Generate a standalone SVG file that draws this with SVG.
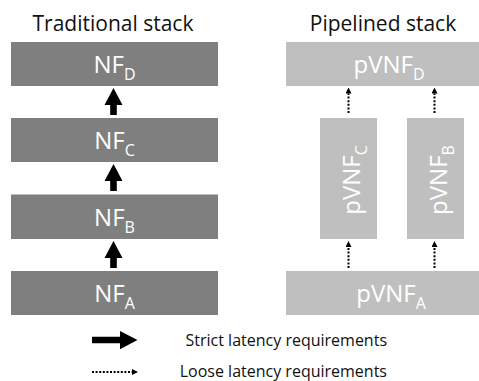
<svg xmlns="http://www.w3.org/2000/svg" width="479" height="381" viewBox="0 0 479 381">
  <style>
    .dark { fill: #7f7f7f; }
    .light { fill: #bfbfbf; }
    .lbl { font-family: "Open Sans", "Liberation Sans", sans-serif; font-size: 24px; fill: #ffffff; text-anchor: middle; }
    .sub { font-size: 16px; }
    .title { font-family: "Open Sans", "Liberation Sans", sans-serif; font-size: 21px; fill: #111111; text-anchor: middle; }
    .legend { font-family: "Open Sans", "Liberation Sans", sans-serif; font-size: 16px; fill: #111111; text-anchor: end; }
    .dot { stroke: #000000; stroke-width: 2; stroke-dasharray: 2 1.6; fill: none; }
    .thick { fill: #000000; }
  </style>
  <defs>
    <path id="thickUp" d="M0,0 L9,17 L3.3,17 L3.3,27 L-3.3,27 L-3.3,17 L-9,17 Z"/>
    <marker id="smallHead" viewBox="0 0 6 6" refX="0" refY="3" markerWidth="6" markerHeight="6" markerUnits="userSpaceOnUse" orient="auto">
      <path d="M0,0 L6,3 L0,6 Z" fill="#000000"/>
    </marker>
  </defs>

  <text class="title" x="113" y="31">Traditional stack</text>
  <text class="title" x="383" y="31">Pipelined stack</text>

  <g id="nf-d">
    <rect class="dark" x="11" y="42" width="207" height="44"/>
    <text class="lbl" x="114.5" y="73">NF<tspan class="sub" dy="7">D</tspan></text>
  </g>
  <g id="nf-c">
    <rect class="dark" x="11" y="118" width="207" height="44"/>
    <text class="lbl" x="114.5" y="149">NF<tspan class="sub" dy="7">C</tspan></text>
  </g>
  <g id="nf-b">
    <rect class="dark" x="11" y="194.5" width="207" height="44.5"/>
    <text class="lbl" x="114.5" y="225.5">NF<tspan class="sub" dy="7">B</tspan></text>
  </g>
  <g id="nf-a">
    <rect class="dark" x="11" y="271" width="207" height="44"/>
    <text class="lbl" x="114.5" y="302">NF<tspan class="sub" dy="7">A</tspan></text>
  </g>

  <g id="pvnf-d">
    <rect class="light" x="286" y="42" width="193" height="44"/>
    <text class="lbl" x="389" y="73">pVNF<tspan class="sub" dy="7">D</tspan></text>
  </g>
  <g id="pvnf-c">
    <rect class="light" x="320" y="118" width="57" height="121"/>
    <text class="lbl" transform="translate(360,180) rotate(-90)" x="0" y="0">pVNF<tspan class="sub" dy="7">C</tspan></text>
  </g>
  <g id="pvnf-b">
    <rect class="light" x="407" y="118" width="57" height="121"/>
    <text class="lbl" transform="translate(447,180) rotate(-90)" x="0" y="0">pVNF<tspan class="sub" dy="7">B</tspan></text>
  </g>
  <g id="pvnf-a">
    <rect class="light" x="286" y="271" width="193" height="44"/>
    <text class="lbl" x="391" y="302">pVNF<tspan class="sub" dy="7">A</tspan></text>
  </g>

  <g id="connectors">
    <use href="#thickUp" class="thick" x="113.5" y="88"/>
    <use href="#thickUp" class="thick" x="113.5" y="164"/>
    <use href="#thickUp" class="thick" x="113.5" y="241"/>
    <line class="dot" x1="348.5" y1="113" x2="348.5" y2="93.5" marker-end="url(#smallHead)"/>
    <line class="dot" x1="434.5" y1="113" x2="434.5" y2="93.5" marker-end="url(#smallHead)"/>
    <line class="dot" x1="348.5" y1="268" x2="348.5" y2="247" marker-end="url(#smallHead)"/>
    <line class="dot" x1="434.5" y1="268" x2="434.5" y2="247" marker-end="url(#smallHead)"/>
  </g>

  <g id="legend">
    <path class="thick" d="M92,336.7 L120,336.7 L120,331 L137.5,340 L120,349.3 L120,343.3 L92,343.3 Z"/>
    <line class="dot" x1="92" y1="372" x2="132" y2="372" marker-end="url(#smallHead)"/>
    <text class="legend" x="387" y="346">Strict latency requirements</text>
    <text class="legend" x="387" y="377">Loose latency requirements</text>
  </g>
</svg>
